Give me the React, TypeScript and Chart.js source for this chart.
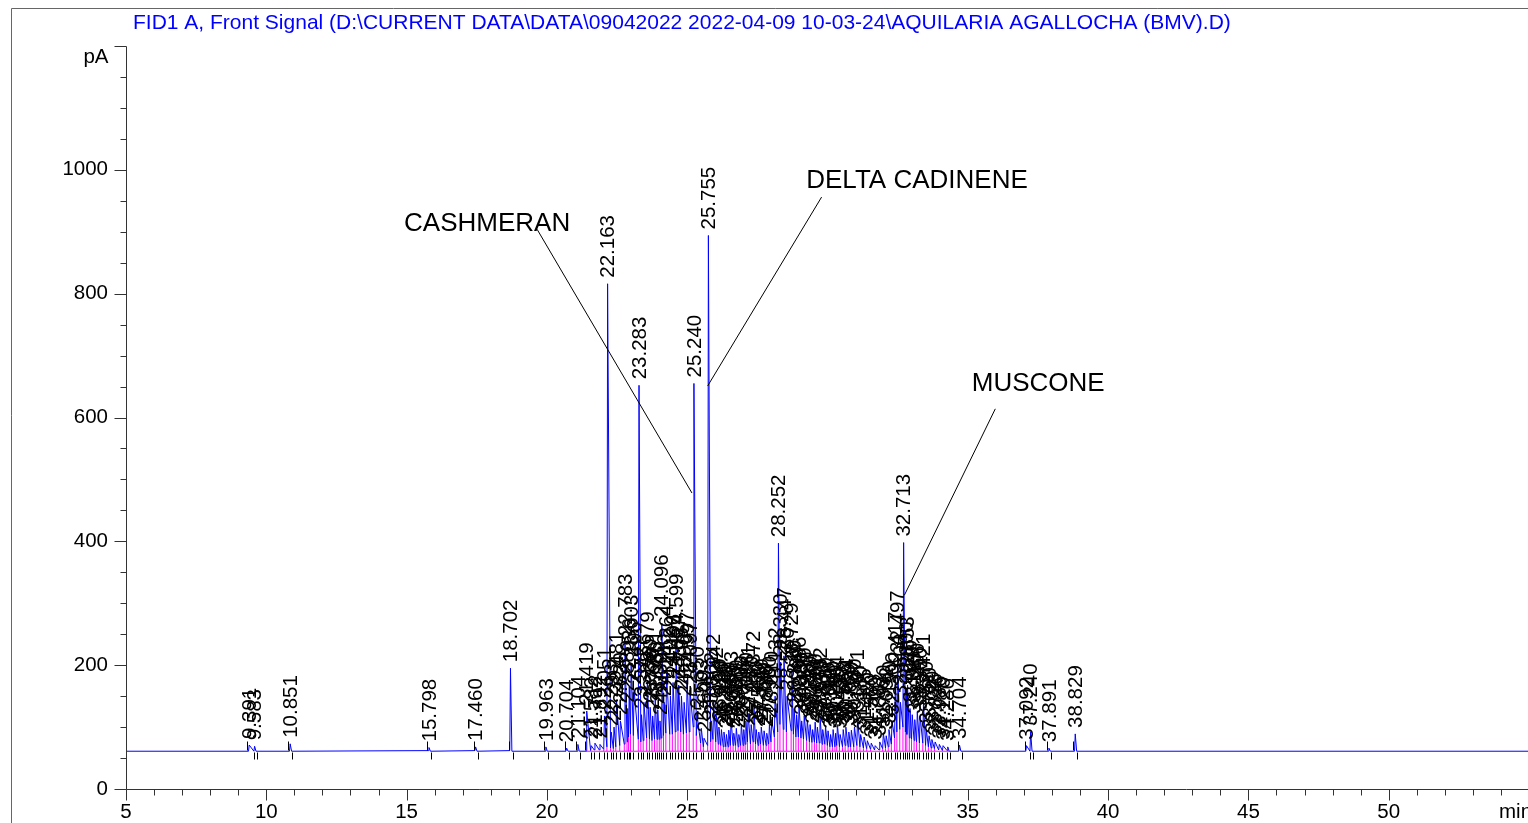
import React, { useEffect, useRef } from "react";
import { Chart, registerables } from "chart.js";

Chart.register(...registerables);

const titleText =
  "FID1 A, Front Signal (D:\\CURRENT DATA\\DATA\\09042022 2022-04-09 10-03-24\\AQUILARIA AGALLOCHA (BMV).D)";
const yUnit = "pA";
const xUnit = "min";
const xMin = 5;
const xMax = 55;
const yMin = 0;
const yMax = 1200;
const xTickStep = 5;
const yTickStep = 200;
const baselineLevel = 61;

// retention time (min)
const peakTimes = [
  9.391, 9.583, 10.851, 15.798, 17.46, 18.702, 19.963, 20.704, 21.104, 21.419,
  21.582, 21.712, 21.892, 22.051, 22.163, 22.293, 22.392, 22.481, 22.62, 22.783,
  22.88, 22.936, 23.003, 23.106, 23.283, 23.372, 23.456, 23.579, 23.68, 23.77,
  23.861, 23.95, 24.03, 24.096, 24.18, 24.264, 24.402, 24.496, 24.599, 24.697,
  24.795, 24.89, 24.997, 25.097, 25.24, 25.35, 25.503, 25.6, 25.755, 25.862,
  25.942, 26.042, 26.13, 26.22, 26.31, 26.4, 26.48, 26.563, 26.66, 26.75,
  26.84, 26.93, 27.016, 27.09, 27.171, 27.28, 27.372, 27.46, 27.55, 27.64,
  27.74, 27.836, 27.93, 28.01, 28.132, 28.252, 28.33, 28.447, 28.56, 28.729,
  28.81, 28.9, 28.986, 29.08, 29.17, 29.28, 29.38, 29.47, 29.56, 29.64,
  29.732, 29.83, 29.93, 30.02, 30.11, 30.2, 30.29, 30.354, 30.45, 30.56,
  30.654, 30.76, 30.85, 30.96, 31.071, 31.18, 31.305, 31.42, 31.56, 31.7,
  31.862, 31.99, 32.092, 32.19, 32.3, 32.417, 32.497, 32.6, 32.713, 32.8,
  32.853, 32.94, 33.02, 33.11, 33.2, 33.3, 33.421, 33.52, 33.62, 33.72,
  33.836, 33.986, 34.12, 34.286, 34.704, 37.092, 37.24, 37.891, 38.829,
];

// apex signal (pA)
const peakHeights = [
  71, 69, 73, 67, 68, 195, 68, 66, 72, 126,
  70, 74, 72, 118, 816, 92, 100, 143, 110, 237,
  130, 165, 203, 160, 652, 120, 140, 176, 132, 118,
  145, 128, 110, 268, 140, 187, 150, 172, 237, 168,
  150, 140, 176, 160, 655, 120, 98, 82, 894, 110,
  140, 118, 100, 96, 92, 88, 95, 112, 90, 98,
  88, 105, 96, 110, 122, 104, 145, 96, 92, 100,
  94, 90, 104, 112, 150, 397, 205, 215, 150, 190,
  130, 120, 135, 110, 118, 111, 104, 96, 108, 100,
  118, 96, 102, 94, 88, 96, 90, 104, 88, 96,
  100, 92, 95, 100, 115, 88, 84, 78, 74, 70,
  76, 90, 86, 96, 110, 176, 210, 140, 398, 160,
  168, 130, 120, 112, 125, 118, 140, 96, 86, 80,
  76, 72, 70, 68, 71, 70, 92, 66, 89,
];

// signal level in the valley just before each peak (pA)
const valleyLevels = [
  61, 61, 61, 62, 62, 62, 61, 61, 61, 61,
  62, 63, 63, 64, 68, 66, 65, 68, 70, 72,
  76, 84, 88, 86, 80, 76, 78, 82, 80, 78,
  80, 80, 80, 82, 86, 90, 88, 88, 92, 94,
  92, 88, 90, 92, 100, 86, 74, 68, 70, 76,
  80, 76, 72, 70, 68, 68, 68, 70, 70, 70,
  68, 70, 70, 72, 76, 72, 76, 72, 70, 72,
  70, 70, 72, 76, 84, 92, 104, 96, 92, 94,
  88, 84, 84, 82, 80, 78, 76, 75, 75, 74,
  74, 72, 72, 70, 68, 68, 68, 70, 68, 68,
  70, 68, 68, 68, 70, 68, 66, 65, 64, 63,
  63, 65, 66, 68, 72, 82, 92, 96, 100, 92,
  88, 82, 80, 78, 76, 74, 74, 70, 68, 66,
  65, 63, 62, 62, 61, 61, 61, 61, 61,
];

const annotationNames = ["CASHMERAN", "DELTA CADINENE", "MUSCONE"];
const annotationTextTimes = [17.87, 33.19, 37.51];
const annotationTextLevels = [913, 982, 655];
const annotationFromTimes = [19.65, 29.79, 35.98];
const annotationFromLevels = [904, 956, 614];
const annotationToTimes = [25.17, 25.73, 32.74];
const annotationToLevels = [478, 651, 313];

const FONT = "'Liberation Sans', Arial, sans-serif";
const CLUSTER_GAP = 0.25;
const LEFT_FOOT = 0.025;
const RIGHT_FOOT = 0.05;

function isClusterStart(i: number) {
  return i === 0 || peakTimes[i] - peakTimes[i - 1] > CLUSTER_GAP;
}
function isClusterEnd(i: number) {
  return i === peakTimes.length - 1 || peakTimes[i + 1] - peakTimes[i] > CLUSTER_GAP;
}

function buildTrace() {
  const pts: { x: number; y: number }[] = [{ x: xMin, y: baselineLevel }];
  for (let i = 0; i < peakTimes.length; i++) {
    const t = peakTimes[i];
    pts.push({ x: t - LEFT_FOOT, y: valleyLevels[i] });
    pts.push({ x: t, y: peakHeights[i] });
    if (isClusterEnd(i)) pts.push({ x: t + RIGHT_FOOT, y: baselineLevel });
  }
  pts.push({ x: xMax, y: baselineLevel });
  return pts;
}

function buildDropLines() {
  const pts: { x: number; y: number | null }[] = [];
  let start = 0;
  for (let i = 0; i < peakTimes.length; i++) {
    if (isClusterStart(i)) start = i;
    if (!isClusterStart(i) && valleyLevels[i] > baselineLevel + 2) {
      const x = peakTimes[i] - LEFT_FOOT;
      pts.push({ x, y: baselineLevel }, { x, y: valleyLevels[i] }, { x, y: null });
    }
    if (isClusterEnd(i) && i - start >= 2) {
      pts.push(
        { x: peakTimes[start] - LEFT_FOOT, y: baselineLevel },
        { x: peakTimes[i] + RIGHT_FOOT, y: baselineLevel },
        { x: peakTimes[i] + RIGHT_FOOT, y: null }
      );
    }
  }
  return pts;
}

const decorPlugin = {
  id: "chromDecor",
  afterDraw(chart: any) {
    const { ctx, scales } = chart;
    const xs = scales.x;
    const ys = scales.y;
    const px = (v: number) => xs.getPixelForValue(v);
    const py = (v: number) => ys.getPixelForValue(v);
    ctx.save();

    // outer frame
    ctx.strokeStyle = "#666";
    ctx.lineWidth = 1;
    ctx.beginPath();
    ctx.moveTo(11.5, 823);
    ctx.lineTo(11.5, 8.5);
    ctx.lineTo(chart.width, 8.5);
    ctx.stroke();

    // title
    ctx.fillStyle = "#0000ff";
    ctx.font = `21px ${FONT}`;
    ctx.textAlign = "left";
    ctx.textBaseline = "alphabetic";
    ctx.fillText(titleText, 133, 29);

    // axes
    const ax = Math.round(px(xMin)) + 0.5;
    const ay = Math.round(py(yMin)) + 0.5;
    ctx.strokeStyle = "#333";
    ctx.beginPath();
    ctx.moveTo(ax, Math.round(py(yMax)) + 0.5);
    ctx.lineTo(ax, ay);
    ctx.lineTo(chart.width, ay);
    ctx.stroke();
    ctx.beginPath();
    for (let v = yMin; v <= yMax; v += 50) {
      const yy = Math.round(py(v)) + 0.5;
      const len = v % yTickStep === 0 ? 12 : 6;
      ctx.moveTo(ax - len, yy);
      ctx.lineTo(ax, yy);
    }
    for (let v = xMin; v <= xMax; v += 1) {
      const xx = Math.round(px(v)) + 0.5;
      const len = v % xTickStep === 0 ? 11 : 6;
      ctx.moveTo(xx, ay);
      ctx.lineTo(xx, ay + len);
    }
    ctx.stroke();

    ctx.fillStyle = "#000";
    ctx.font = `20.5px ${FONT}`;
    ctx.textAlign = "right";
    ctx.textBaseline = "middle";
    ctx.fillText(yUnit, ax - 18, py(yMax) + 11);
    ctx.textAlign = "left";
    ctx.fillText(xUnit, px(xMax) - 30, ay + 23);

    // integration tick marks
    const by = Math.round(py(baselineLevel)) + 0.5;
    ctx.strokeStyle = "#000";
    ctx.beginPath();
    for (let i = 0; i < peakTimes.length; i++) {
      const t = peakTimes[i];
      if (isClusterStart(i)) {
        const xx = Math.round(px(t - 2.5 * LEFT_FOOT)) + 0.5;
        ctx.moveTo(xx, by - 1);
        ctx.lineTo(xx, by - 10);
      } else {
        const xx = Math.round(px(t - LEFT_FOOT)) + 0.5;
        ctx.moveTo(xx, by + 1);
        ctx.lineTo(xx, by + 8);
      }
      if (isClusterEnd(i)) {
        const xx = Math.round(px(t + 1.5 * RIGHT_FOOT)) + 0.5;
        ctx.moveTo(xx, by + 1);
        ctx.lineTo(xx, by + 8);
      }
    }
    ctx.stroke();

    // peak labels
    ctx.fillStyle = "#000";
    ctx.font = `20.5px ${FONT}`;
    ctx.textAlign = "left";
    ctx.textBaseline = "middle";
    for (let i = 0; i < peakTimes.length; i++) {
      ctx.save();
      ctx.translate(px(peakTimes[i]) + 1, py(peakHeights[i]) - 6);
      ctx.rotate(-Math.PI / 2);
      ctx.fillText(peakTimes[i].toFixed(3), 0, 0);
      ctx.restore();
    }

    // compound annotations
    ctx.strokeStyle = "#000";
    ctx.lineWidth = 1;
    ctx.font = `26px ${FONT}`;
    ctx.textAlign = "center";
    ctx.textBaseline = "middle";
    for (let i = 0; i < annotationNames.length; i++) {
      ctx.beginPath();
      ctx.moveTo(px(annotationFromTimes[i]), py(annotationFromLevels[i]));
      ctx.lineTo(px(annotationToTimes[i]), py(annotationToLevels[i]));
      ctx.stroke();
      ctx.fillText(annotationNames[i], px(annotationTextTimes[i]), py(annotationTextLevels[i]));
    }
    ctx.restore();
  },
};

export default function App() {
  const ref = useRef<HTMLCanvasElement | null>(null);
  useEffect(() => {
    if (!ref.current) return;
    const chart = new Chart(ref.current, {
      type: "line",
      data: {
        datasets: [
          {
            data: buildTrace(),
            borderColor: "#0000ff",
            borderWidth: 1,
            pointRadius: 0,
            tension: 0,
            order: 2,
          },
          {
            data: buildDropLines() as any,
            borderColor: "#ff00ff",
            borderWidth: 1,
            pointRadius: 0,
            tension: 0,
            spanGaps: false,
            order: 1,
          },
        ],
      },
      options: {
        animation: false,
        responsive: false,
        devicePixelRatio: 1,
        layout: { padding: { top: 46, right: 10, left: 0, bottom: 0 } },
        plugins: { legend: { display: false }, tooltip: { enabled: false }, title: { display: false } },
        scales: {
          x: {
            type: "linear",
            min: xMin,
            max: xMax,
            grid: { display: false, drawTicks: false },
            border: { display: false },
            ticks: {
              stepSize: xTickStep,
              autoSkip: false,
              maxRotation: 0,
              padding: 11,
              color: "#000",
              font: { family: FONT, size: 20.5 },
              callback: (v: any) => (v === xMax ? "" : String(v)),
            },
            afterFit: (s: any) => {
              s.height = 34;
            },
          },
          y: {
            type: "linear",
            min: yMin,
            max: yMax,
            grid: { display: false, drawTicks: false },
            border: { display: false },
            ticks: {
              stepSize: yTickStep,
              padding: 18,
              color: "#000",
              font: { family: FONT, size: 20.5 },
              callback: (v: any) => (v === yMax ? "" : String(v)),
            },
            afterFit: (s: any) => {
              s.width = 126;
            },
          },
        },
      },
      plugins: [decorPlugin],
    });
    return () => chart.destroy();
  }, []);
  return (
    <div
      style={{
        position: "fixed",
        left: 0,
        top: 0,
        width: 1528,
        height: 823,
        overflow: "hidden",
        background: "#fff",
      }}
    >
      <canvas ref={ref} width={1540} height={823} style={{ display: "block" }} />
    </div>
  );
}
